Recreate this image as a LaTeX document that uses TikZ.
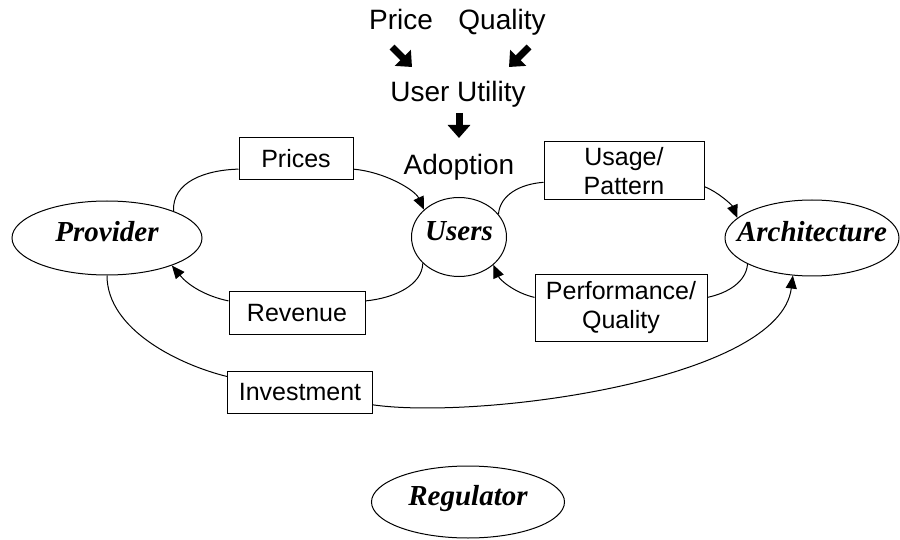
\documentclass[tikz,border=0pt]{standalone}
\usepackage{fontspec}
\setmainfont{Liberation Sans}
\newfontfamily\timesbi{Liberation Serif}
\usetikzlibrary{shapes,arrows.meta}

\begin{document}
\begin{tikzpicture}[x=1pt,y=-1pt]
% Define node styles
\tikzstyle{actor} = [ellipse, draw, line width=1pt, inner xsep=-20pt, inner ysep=0pt, text height=.68em, text depth=0pt, font=\timesbi\bfseries\itshape\fontsize{29}{32}\selectfont]
\tikzstyle{flow} = [rectangle, draw, line width=1pt, fill=white, inner sep=0pt, align=center, font=\fontsize{25}{29}\selectfont]
\tikzstyle{factor} = [anchor=base, font=\fontsize{28}{30}\selectfont]
\tikzstyle{link} = [line width=1pt]
\tikzstyle{edge} = [line width=1pt, -{Triangle[length=13pt,width=11pt]}]
\tikzstyle{bigarrow} = [line width=7pt, -{Triangle[length=13pt,width=22pt]}]

\useasboundingbox (0,0) rectangle (900,540);

% Draw factors above the users
\node[factor] (price) at (401,30) {Price};
\node[factor] (quality) at (502,30) {Quality};
\node[factor] (utility) at (458,102) {User Utility};
\node[factor] (adoption) at (459,175) {Adoption};

\coordinate (pa1) at (392,47);
\coordinate (pa2) at (412,67);
\coordinate (qa1) at (529,47);
\coordinate (qa2) at (509,67);
\coordinate (ua1) at (459,113);
\coordinate (ua2) at (459,138);
\draw[bigarrow] (pa1) -- (pa2);
\draw[bigarrow] (qa1) -- (qa2);
\draw[bigarrow] (ua1) -- (ua2);

% Draw actors
\node[actor, minimum width=190pt, minimum height=74pt] (provider) at (107,238) {Provider};
\node[actor, minimum width=95pt, minimum height=79pt] (users) at (459,237) {Users};
\node[actor, minimum width=174pt, minimum height=76pt] (architecture) at (812,238) {Architecture};
\node[actor, minimum width=193pt, minimum height=72pt] (regulator) at (468,502) {Regulator};

% Draw flows
\node[flow, minimum width=114pt, minimum height=42pt] (prices) at (296,159) {Prices};
\node[flow, minimum width=136pt, minimum height=42pt] (revenue) at (297,313) {Revenue};
\node[flow, minimum width=160pt, minimum height=58pt] (usage) at (624,171) {Usage/\\Pattern};
\node[flow, minimum width=172pt, minimum height=67pt] (performance) at (621,308) {Performance/\\Quality};
\node[flow, minimum width=145pt, minimum height=42pt] (investment) at (300,392) {Investment};

% Draw edges
\draw[link] (provider.22) .. controls (172,182) and (205,170) .. (prices.190);
\draw[edge] (prices.-10) .. controls (385,172) and (415,190) .. (users.142);
\draw[link] (users.216) .. controls (422,285) and (395,298) .. (revenue.10);
\draw[edge] (revenue.170) .. controls (205,296) and (188,285) .. (provider.-23);
\draw[link] (users.30) .. controls (500,195) and (520,184) .. (usage.188);
\draw[edge] (usage.-11) .. controls (718,192) and (732,205) .. (architecture.165);
\draw[link] (architecture.202) .. controls (746,282) and (728,293) .. (performance.7);
\draw[edge] (performance.173) .. controls (515,293) and (500,280) .. (users.-39);
\draw[link] (provider.south) .. controls (107,330) and (180,365) .. (investment.168);
\draw[edge] (investment.-10) .. controls (480,420) and (780,380) .. (architecture.243);
\end{tikzpicture}
\end{document}
